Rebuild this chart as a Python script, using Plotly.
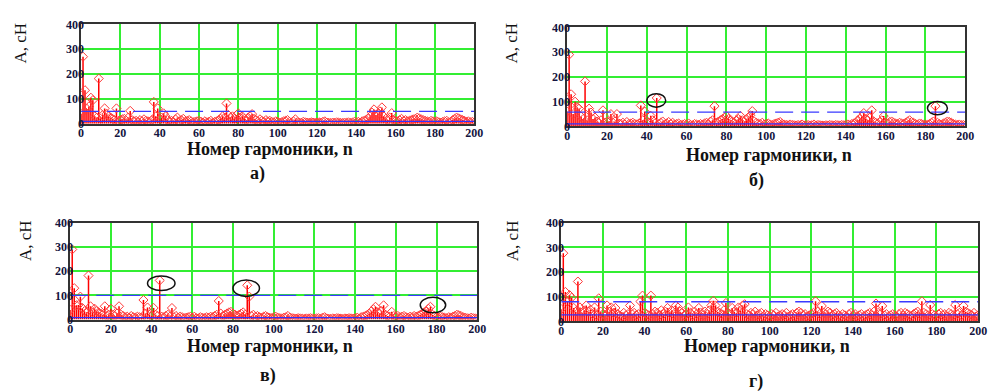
import plotly.graph_objects as go

harmonics = list(range(0, 201))

amp_a = [
    40, 270, 135, 60, 70, 105, 95, 30, 25, 182,
    20, 35, 62, 40, 30, 25, 20, 15, 62, 12,
    15, 18, 20, 12, 25, 52, 15, 10, 12, 8,
    15, 10, 18, 12, 10, 8, 15, 88, 30, 62,
    20, 25, 42, 30, 15, 10, 12, 8, 18, 25,
    10, 15, 20, 8, 12, 15, 10, 6, 8, 10,
    12, 8, 5, 10, 6, 8, 12, 5, 8, 10,
    15, 20, 30, 25, 82, 35, 25, 30, 20, 35,
    42, 25, 30, 20, 15, 25, 30, 39, 20, 15,
    10, 18, 12, 8, 15, 10, 12, 8, 6, 10,
    8, 5, 6, 10, 12, 15, 8, 5, 10, 18,
    6, 5, 4, 8, 6, 5, 4, 6, 5, 4,
    5, 6, 4, 8, 10, 5, 4, 3, 5, 4,
    6, 5, 4, 3, 5, 4, 6, 4, 5, 8,
    6, 8, 5, 10, 12, 15, 20, 30, 45, 58,
    35, 40, 50, 66, 30, 20, 15, 25, 43, 15,
    12, 10, 15, 20, 12, 15, 10, 12, 15, 18,
    20, 25, 22, 18, 15, 12, 10, 8, 12, 10,
    8, 10, 6, 5, 8, 10, 12, 6, 8, 15,
    20, 25, 22, 18, 15, 12, 8, 10, 6, 8,
    5,
]

amp_b = [
    60, 290, 130, 50, 100, 78, 72, 40, 30, 182,
    25, 72, 56, 30, 36, 20, 15, 25, 65, 15,
    20, 18, 50, 15, 20, 50, 12, 10, 15, 8,
    18, 10, 12, 15, 10, 8, 12, 85, 25, 60,
    20, 15, 43, 25, 12, 115, 10, 15, 20, 8,
    12, 18, 10, 15, 8, 10, 12, 6, 8, 10,
    8, 12, 6, 5, 10, 8, 6, 10, 8, 12,
    15, 10, 20, 25, 82, 15, 20, 25, 30, 35,
    43, 30, 25, 20, 15, 25, 30, 43, 25, 20,
    30, 35, 45, 62, 20, 15, 12, 10, 15, 8,
    10, 12, 8, 6, 10, 12, 15, 18, 10, 8,
    6, 5, 8, 6, 5, 4, 6, 5, 8, 4,
    5, 6, 4, 5, 8, 4, 6, 5, 4, 3,
    5, 4, 6, 5, 4, 6, 5, 4, 6, 5,
    6, 8, 5, 10, 12, 15, 25, 30, 40, 54,
    30, 25, 35, 65, 20, 15, 12, 18, 25, 42,
    15, 12, 18, 20, 15, 12, 10, 15, 12, 10,
    15, 20, 25, 18, 15, 10, 8, 12, 10, 8,
    6, 8, 10, 15, 20, 82, 15, 10, 8, 12,
    15, 20, 18, 15, 10, 8, 6, 8, 5, 6,
    4,
]

amp_v = [
    40, 290, 130, 59, 60, 95, 48, 35, 30, 182,
    55, 30, 45, 35, 30, 25, 20, 55, 15, 20,
    45, 20, 15, 25, 55, 20, 15, 10, 12, 8,
    15, 10, 8, 12, 10, 8, 81, 25, 50, 20,
    15, 48, 20, 15, 162, 12, 10, 15, 20, 12,
    48, 10, 15, 8, 12, 10, 6, 8, 10, 12,
    8, 12, 6, 5, 10, 8, 6, 10, 8, 12,
    10, 15, 20, 77, 25, 15, 20, 25, 30, 32,
    25, 20, 15, 20, 25, 30, 20, 142, 95, 15,
    20, 12, 15, 10, 8, 12, 15, 10, 8, 6,
    10, 12, 8, 6, 5, 8, 10, 15, 8, 6,
    5, 4, 6, 5, 4, 3, 5, 4, 6, 5,
    4, 5, 6, 4, 8, 10, 5, 4, 3, 5,
    4, 6, 5, 4, 3, 5, 4, 6, 5, 4,
    6, 8, 5, 10, 12, 15, 20, 25, 35, 43,
    53, 30, 25, 35, 59, 20, 15, 12, 32, 15,
    12, 15, 10, 12, 15, 10, 8, 12, 10, 15,
    12, 15, 20, 25, 30, 35, 45, 53, 20, 15,
    10, 8, 12, 10, 8, 6, 10, 8, 12, 15,
    20, 18, 15, 10, 8, 6, 5, 8, 6, 5,
    4,
]

amp_g = [
    50, 277, 120, 80, 107, 97, 55, 40, 162, 57,
    35, 45, 65, 40, 48, 30, 57, 25, 94, 40,
    30, 25, 65, 40, 57, 35, 55, 30, 25, 20,
    35, 25, 30, 65, 30, 35, 25, 30, 81, 105,
    35, 30, 25, 105, 30, 40, 35, 25, 45, 30,
    40, 55, 35, 45, 30, 65, 57, 40, 35, 25,
    30, 57, 35, 25, 40, 30, 55, 35, 25, 40,
    30, 45, 65, 84, 65, 40, 35, 30, 45, 75,
    35, 30, 55, 40, 35, 57, 45, 65, 70, 30,
    25, 35, 30, 40, 25, 30, 35, 20, 30, 25,
    20, 30, 25, 35, 20, 25, 30, 25, 35, 20,
    25, 30, 20, 35, 40, 35, 25, 30, 20, 25,
    30, 35, 82, 40, 30, 63, 35, 30, 40, 35,
    25, 30, 35, 25, 20, 30, 25, 20, 30, 35,
    25, 30, 20, 25, 30, 20, 25, 30, 35, 25,
    40, 73, 35, 30, 63, 25, 30, 20, 25, 30,
    25, 20, 30, 35, 25, 35, 30, 25, 20, 30,
    35, 40, 30, 82, 35, 30, 25, 67, 30, 25,
    20, 30, 35, 25, 30, 20, 35, 30, 25, 67,
    30, 35, 25, 63, 40, 35, 30, 25, 35, 20,
    25,
]

dashed_levels = [50, 58, 100, 80]
solid_levels = [10, 10, 8, 27]
panel_labels = ["а)", "б)", "в)", "г)"]
x_title = "Номер гармоники, n"
y_title = "A, сН"
x_ticks = [0, 20, 40, 60, 80, 100, 120, 140, 160, 180, 200]
y_ticks = [0, 100, 200, 300, 400]

series = [amp_a, amp_b, amp_v, amp_g]

SERIF = "Liberation Serif, Times New Roman, DejaVu Serif, serif"

# layout geometry (paper fractions)
domains = [
    ([0.079, 0.477], [0.691, 0.954]),
    ([0.571, 0.974], [0.684, 0.946]),
    ([0.068, 0.480], [0.173, 0.429]),
    ([0.565, 0.987], [0.168, 0.429]),
]
ytitle_pos = [(18, 37), (515, 37), (23, 242), (516, 242)]
xtitle_pos = [(270, 147), (775, 153), (270, 352), (773, 352)]
label_pos = [(258, 173), (763, 180), (268, 382), (762, 388)]

fig = go.Figure()
W, H = 1000, 392

for i, amps in enumerate(series):
    xa = "x" if i == 0 else f"x{i+1}"
    ya = "y" if i == 0 else f"y{i+1}"
    sx, sy = [], []
    for n, v in zip(harmonics, amps):
        sx += [n, n, None]
        sy += [0, v, None]
    fig.add_trace(go.Scatter(x=sx, y=sy, mode="lines", xaxis=xa, yaxis=ya,
                             line=dict(color="#ff0000", width=1.5),
                             hoverinfo="skip", showlegend=False))
    fig.add_trace(go.Scatter(x=harmonics, y=amps, mode="markers", xaxis=xa, yaxis=ya,
                             marker=dict(symbol="diamond-open", size=7,
                                         color="#ff3a3a", line=dict(width=1)),
                             showlegend=False))
    fig.add_trace(go.Scatter(x=[0, 200], y=[solid_levels[i]] * 2, mode="lines",
                             xaxis=xa, yaxis=ya,
                             line=dict(color="#3030ff", width=1.2),
                             showlegend=False))
    fig.add_trace(go.Scatter(x=[0, 200], y=[dashed_levels[i]] * 2, mode="lines",
                             xaxis=xa, yaxis=ya,
                             line=dict(color="#3a3aff", width=1.3, dash="18px,8px"),
                             showlegend=False))

axis_common = dict(
    showgrid=True, gridcolor="#33ee33", gridwidth=1.6,
    showline=True, linecolor="#333333", linewidth=1.5, mirror=True,
    zeroline=False, ticks="",
    tickfont=dict(family=SERIF, size=12, color="#141440", weight="bold"),
)

layout = dict(width=W, height=H, margin=dict(l=0, r=0, t=0, b=0),
              paper_bgcolor="white", plot_bgcolor="white", showlegend=False)

for i in range(4):
    xk = "xaxis" if i == 0 else f"xaxis{i+1}"
    yk = "yaxis" if i == 0 else f"yaxis{i+1}"
    xa = "x" if i == 0 else f"x{i+1}"
    ya = "y" if i == 0 else f"y{i+1}"
    dx, dy = domains[i]
    layout[xk] = dict(axis_common, domain=dx, anchor=ya, range=[0, 200],
                      tickvals=x_ticks, ticklabelstandoff=-3)
    layout[yk] = dict(axis_common, domain=dy, anchor=xa, range=[0, 400],
                      tickvals=y_ticks, ticklabelstandoff=-7)

annotations = []
for i in range(4):
    px, py = ytitle_pos[i]
    annotations.append(dict(x=px / W, y=1 - py / H, xref="paper", yref="paper",
                            xanchor="center", yanchor="middle",
                            text=y_title, textangle=-90, showarrow=False,
                            font=dict(family=SERIF, size=17, color="#111111")))
    px, py = xtitle_pos[i]
    annotations.append(dict(x=px / W, y=1 - py / H, xref="paper", yref="paper",
                            xanchor="center", yanchor="middle",
                            text=x_title, showarrow=False,
                            font=dict(family=SERIF, size=18, color="#111111",
                                      weight="bold")))
    px, py = label_pos[i]
    annotations.append(dict(x=px / W, y=1 - py / H, xref="paper", yref="paper",
                            xanchor="center", yanchor="middle",
                            text=panel_labels[i], showarrow=False,
                            font=dict(family=SERIF, size=18, color="#111111",
                                      weight="bold")))
layout["annotations"] = annotations

# highlight ellipses (data coordinates of the panels)
ellipses = [
    ("x2", "y2", 40.0, 49.5, 78, 132),
    ("x2", "y2", 181, 191, 47, 101),
    ("x3", "y3", 38, 51.5, 120, 180),
    ("x3", "y3", 80, 93, 96, 164),
    ("x3", "y3", 172, 184.5, 28, 92),
]
layout["shapes"] = [dict(type="circle", xref=a, yref=b, x0=x0, x1=x1, y0=y0, y1=y1,
                         line=dict(color="#111111", width=1.5))
                    for a, b, x0, x1, y0, y1 in ellipses]

fig.update_layout(**layout)
fig.write_html("out.html", config={"displayModeBar": False},
               post_script="document.body.style.margin='0px';document.body.style.overflow='hidden';")
